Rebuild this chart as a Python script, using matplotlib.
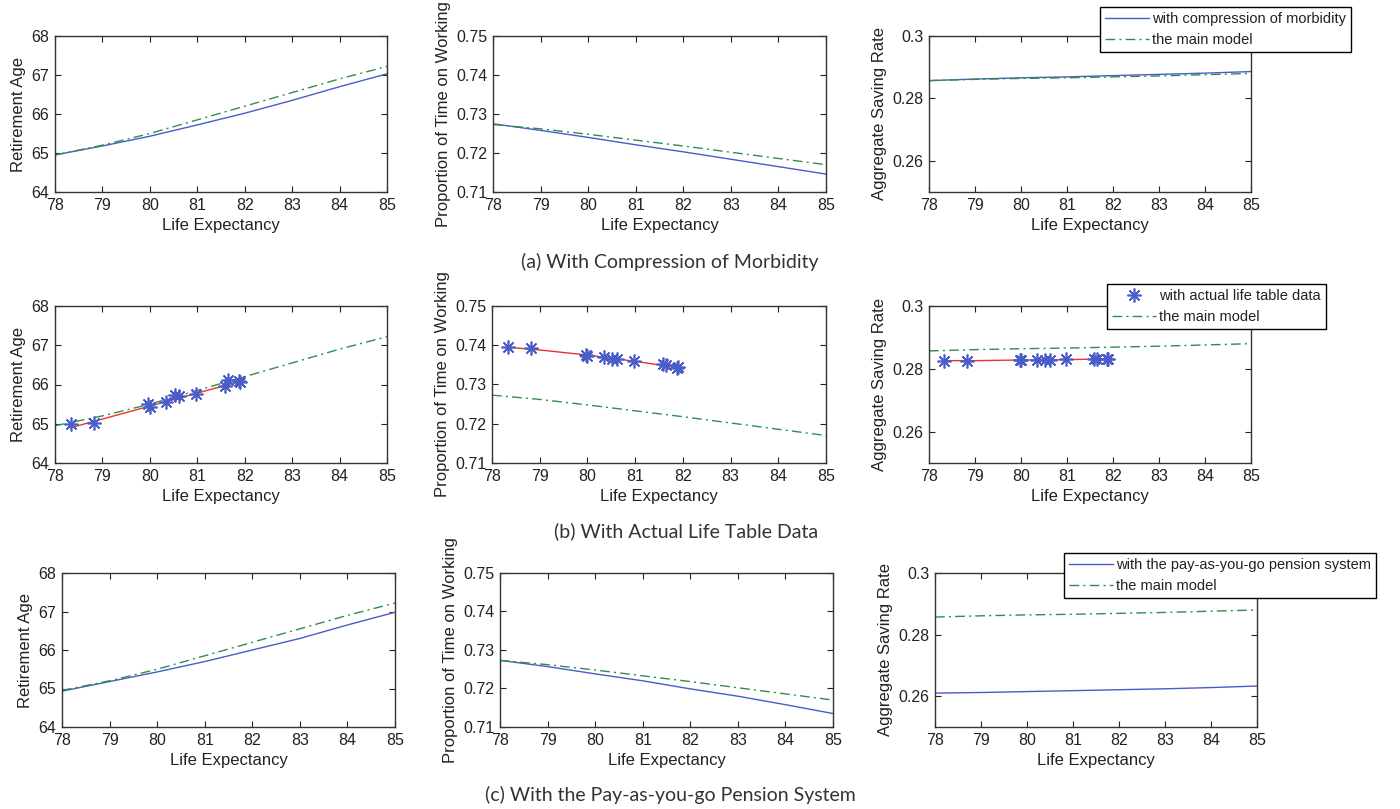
import numpy as np
import matplotlib.pyplot as plt
from matplotlib.lines import Line2D

plt.rcParams['font.family'] = ['Liberation Sans', 'DejaVu Sans']
plt.rcParams['xtick.direction'] = 'in'
plt.rcParams['ytick.direction'] = 'in'

W, H = 1400, 809

# ---- data ----
life = [78, 79, 80, 81, 82, 83, 84, 85]

main_ret = [64.95, 65.20, 65.50, 65.85, 66.20, 66.55, 66.90, 67.22]
main_work = [0.7273, 0.7262, 0.7248, 0.7233, 0.7218, 0.7202, 0.7186, 0.7170]
main_save = [0.2857, 0.2861, 0.2864, 0.2866, 0.2869, 0.2872, 0.2876, 0.2880]

comp_ret = [64.95, 65.18, 65.43, 65.72, 66.02, 66.35, 66.70, 67.03]
comp_work = [0.7275, 0.7258, 0.7240, 0.7221, 0.7203, 0.7184, 0.7165, 0.7146]
comp_save = [0.2857, 0.2862, 0.2866, 0.2869, 0.2873, 0.2877, 0.2881, 0.2886]

payg_ret = [64.93, 65.18, 65.43, 65.70, 66.00, 66.30, 66.65, 66.98]
payg_work = [0.7273, 0.7257, 0.7238, 0.7220, 0.7199, 0.7180, 0.7158, 0.7135]
payg_save = [0.2610, 0.2612, 0.2615, 0.2618, 0.2621, 0.2624, 0.2628, 0.2633]

table_life = [78.33, 78.82, 79.97, 80.00, 80.35, 80.52, 80.62, 80.98, 81.58, 81.65, 81.87, 81.90]
table_ret = [65.00, 65.03, 65.50, 65.43, 65.55, 65.73, 65.70, 65.75, 65.97, 66.12, 66.10, 66.07]
table_work = [0.7395, 0.7394, 0.7376, 0.7372, 0.7371, 0.7364, 0.7365, 0.7359, 0.7351, 0.7349, 0.7343, 0.7344]
table_save = [0.2826, 0.2826, 0.2827, 0.2827, 0.2828, 0.2829, 0.2829, 0.2830, 0.2832, 0.2832, 0.2832, 0.2832]

fit_life = [78.33, 79.0, 80.0, 81.0, 81.9]
fit_ret = [64.90, 65.12, 65.45, 65.78, 66.08]
fit_work = [0.7395, 0.7388, 0.7375, 0.7359, 0.7343]
fit_save = [0.2826, 0.2826, 0.2828, 0.2829, 0.2832]

captions = ['(a) With Compression of Morbidity',
            '(b) With Actual Life Table Data',
            '(c) With the Pay-as-you-go Pension System']
ylabels = ['Retirement Age', 'Proportion of Time on Working', 'Aggregate Saving Rate']
ylims = [(64, 68), (0.71, 0.75), (0.25, 0.30)]
yticks = [[64, 65, 66, 67, 68],
          [0.71, 0.72, 0.73, 0.74, 0.75],
          [0.26, 0.28, 0.30]]
yticklabels = [['64', '65', '66', '67', '68'],
               ['0.71', '0.72', '0.73', '0.74', '0.75'],
               ['0.26', '0.28', '0.3']]

BLUE = '#4a5cc8'
GREEN = '#2f8f4a'
RED = '#f03030'
TXT = '#222222'
DASHDOT = (0, (7, 3, 1.5, 3))

# axes boxes in pixels: (left, top, right, bottom)
boxes = [
    [(55, 36, 387, 192), (493, 36, 826, 192), (929, 36, 1251, 192)],
    [(55, 306, 387, 463), (492, 306, 826, 463), (929, 306, 1251, 463)],
    [(62, 573, 395, 727), (500, 573, 833, 727), (935, 573, 1257, 727)],
]
legend_xy = [(1100, 7), (1107, 284), (1064, 553)]
caption_xy = [(670, 262), (686, 531), (670, 795)]

fig = plt.figure(figsize=(W / 100, H / 100), dpi=100)


def make_ax(box, k):
    l, t, r, b = box
    ax = fig.add_axes([l / W, 1 - b / H, (r - l) / W, (b - t) / H])
    ax.set_xlim(78, 85)
    ax.set_xticks(life)
    ax.set_ylim(*ylims[k])
    ax.set_yticks(yticks[k])
    ax.set_yticklabels(yticklabels[k])
    ax.tick_params(top=True, right=True, length=4, width=0.8,
                   labelsize=11.5, colors=TXT, pad=4)
    for s in ax.spines.values():
        s.set_color('#333333')
        s.set_linewidth(1.0)
    ax.set_xlabel('Life Expectancy', fontsize=12, color=TXT, labelpad=4)
    ax.set_ylabel(ylabels[k], fontsize=12, color=TXT, labelpad=4)
    return ax


main_series = [main_ret, main_work, main_save]
row_series = [[comp_ret, comp_work, comp_save],
              None,
              [payg_ret, payg_work, payg_save]]
row_labels = ['with compression of morbidity', 'with actual life table data',
              'with the pay-as-you-go pension system']
table_series = [table_ret, table_work, table_save]
fit_series = [fit_ret, fit_work, fit_save]

star = (8, 2, 0)

for row in range(3):
    for k in range(3):
        ax = make_ax(boxes[row][k], k)
        if row == 1:
            ax.plot(life, main_series[k], color=GREEN, ls=DASHDOT, lw=1.0)
            ax.plot(fit_life, fit_series[k], color=RED, lw=1.0)
            ax.plot(table_life, table_series[k], ls='none', marker=star,
                    ms=10, mew=1.2, color=BLUE)
        else:
            ax.plot(life, row_series[row][k], color=BLUE, lw=1.0)
            ax.plot(life, main_series[k], color=GREEN, ls=DASHDOT, lw=1.0)

    # legend
    if row == 1:
        h1 = Line2D([], [], ls='none', marker=star, ms=10, mew=1.2, color=BLUE)
    else:
        h1 = Line2D([], [], color=BLUE, lw=1.0)
    h2 = Line2D([], [], color=GREEN, ls=DASHDOT, lw=1.0)
    lx, ly = legend_xy[row]
    leg = fig.legend([h1, h2], [row_labels[row], 'the main model'],
                     loc='upper left', bbox_to_anchor=(lx / W, 1 - ly / H),
                     fontsize=10.5, fancybox=False, framealpha=1,
                     edgecolor='black', handlelength=3.0, handletextpad=0.2,
                     borderpad=0.35, labelspacing=0.45, borderaxespad=0)
    leg.get_frame().set_linewidth(1.0)
    for t in leg.get_texts():
        t.set_color(TXT)

    cx, cy = caption_xy[row]
    fig.text(cx / W, 1 - cy / H, captions[row], ha='center', va='center',
             fontsize=14, color='#333333', family=['Lato', 'DejaVu Sans'])

fig.savefig('out.png', dpi=100)
